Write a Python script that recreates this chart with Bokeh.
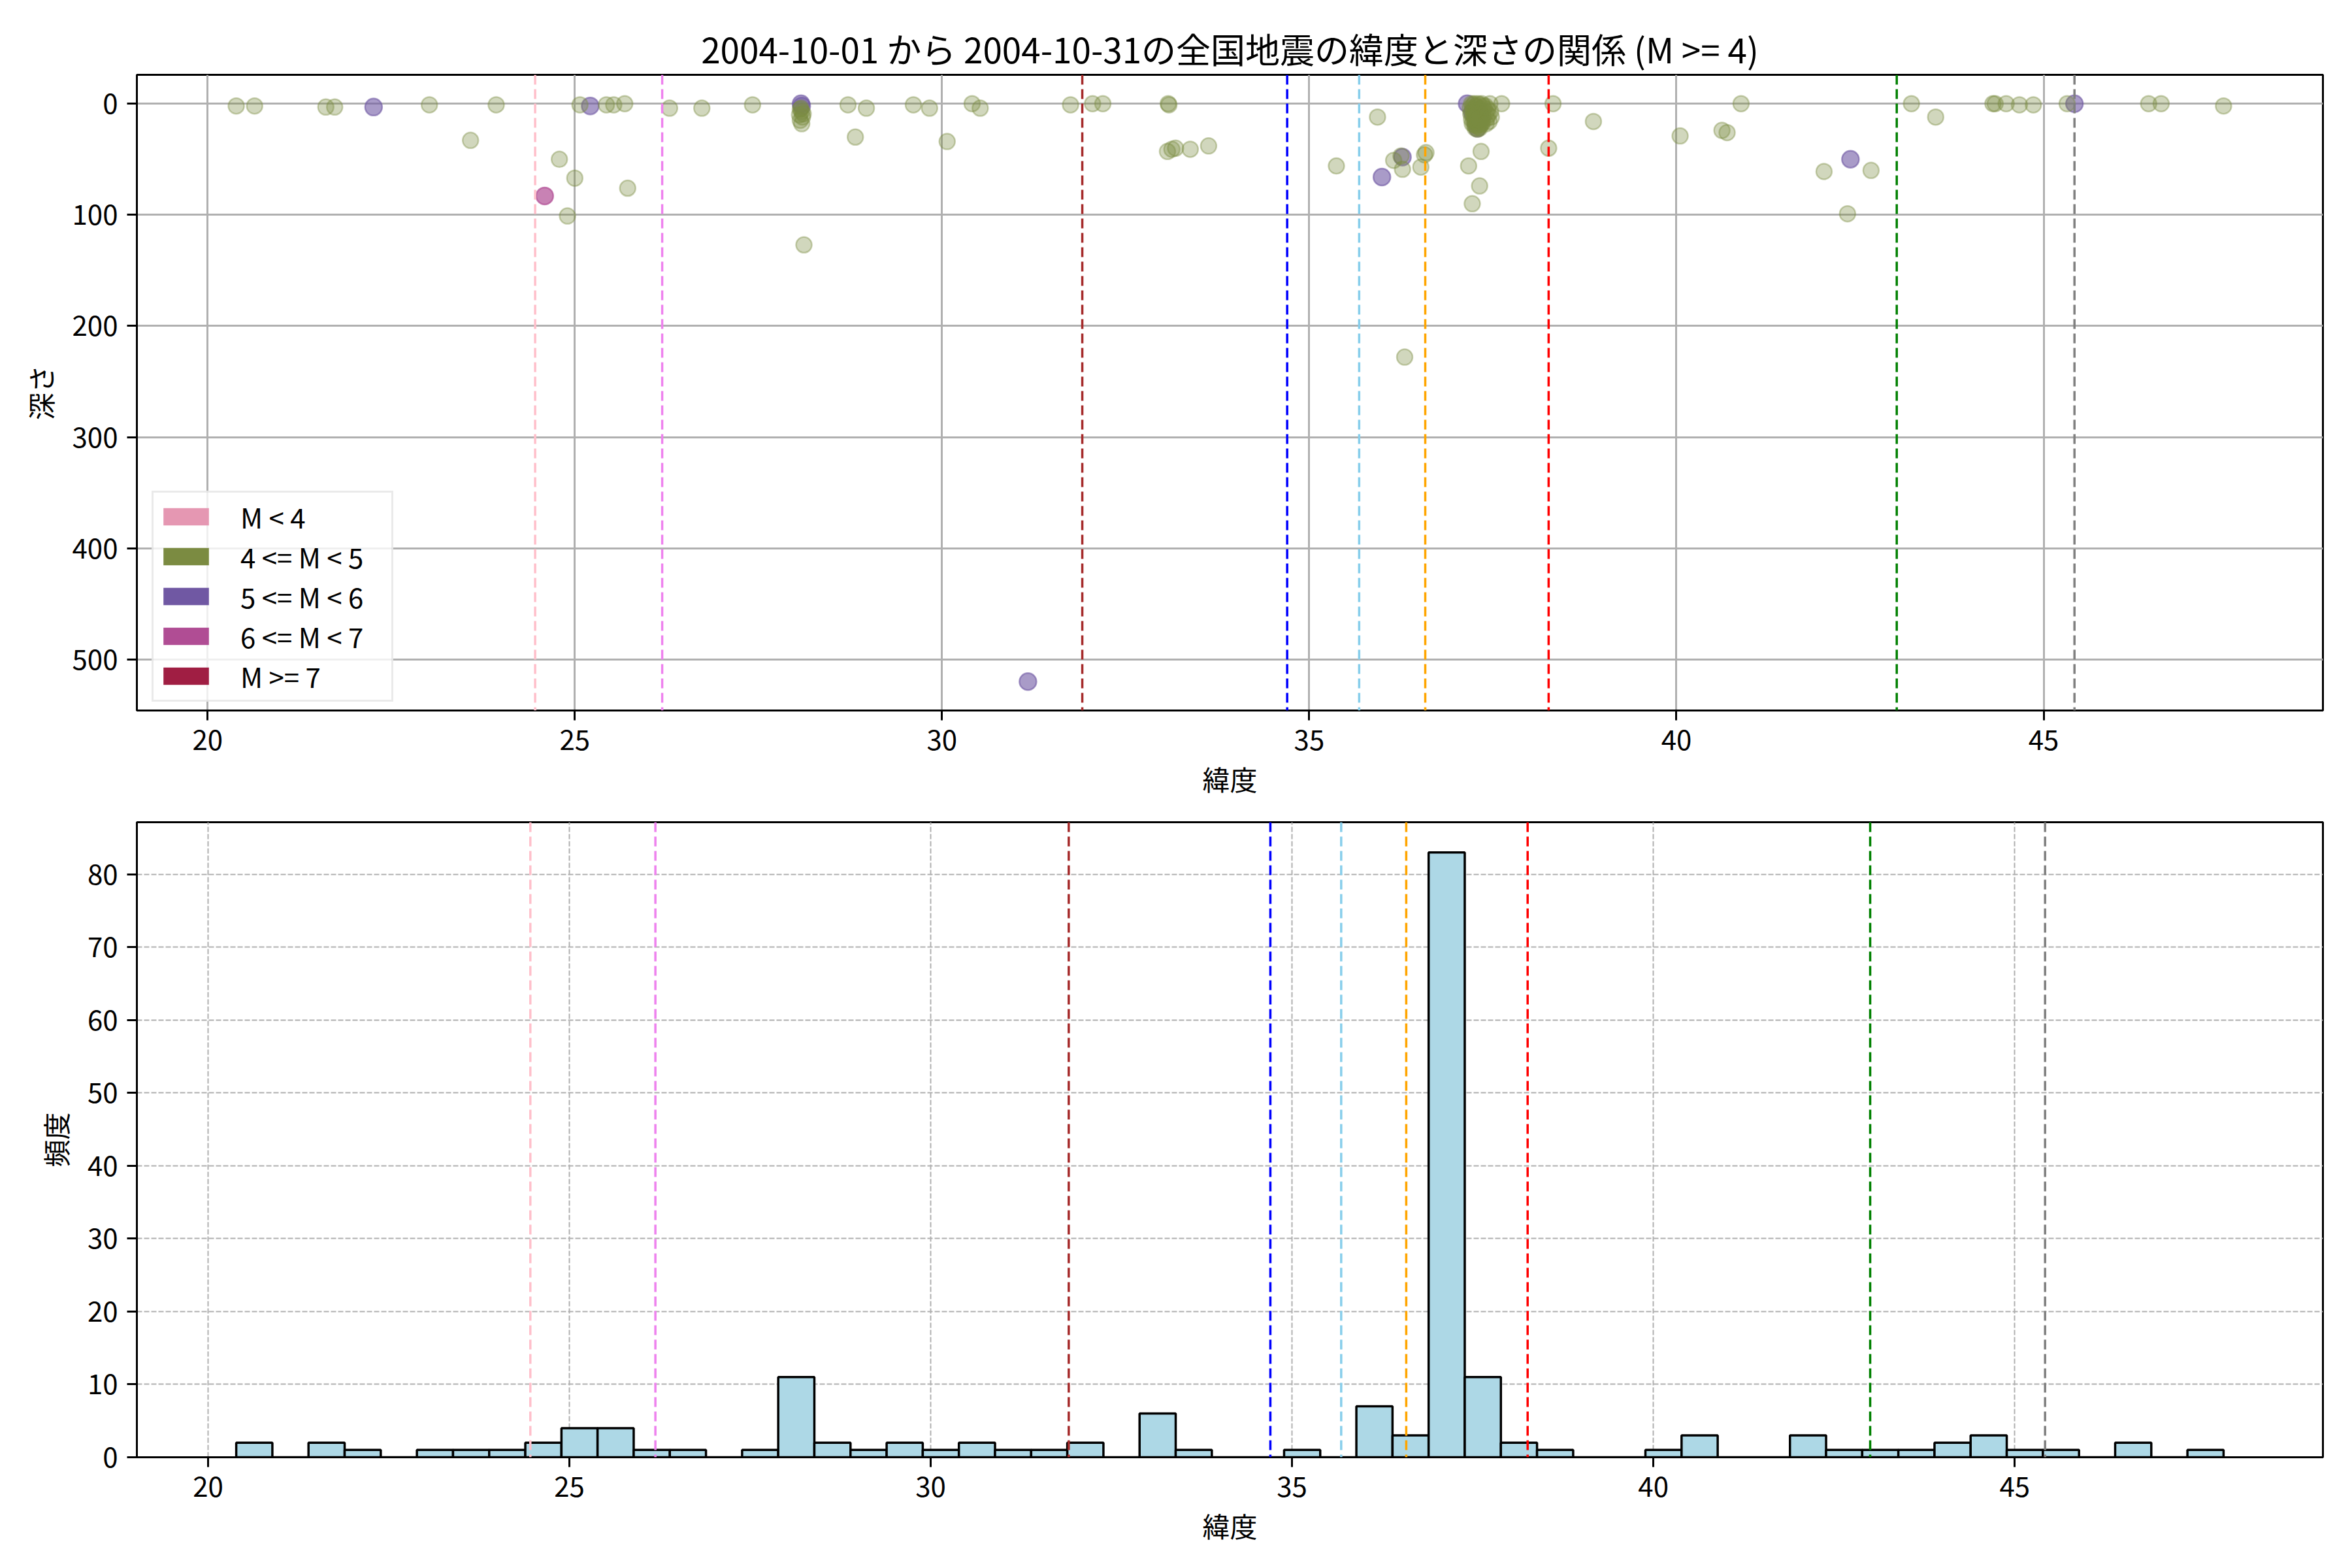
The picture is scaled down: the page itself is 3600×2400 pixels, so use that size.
import numpy as np
from bokeh.plotting import figure
from bokeh.models import Span, Range1d, FixedTicker, Legend, LegendItem
from bokeh.layouts import column
from bokeh.embed import file_html
from bokeh.resources import INLINE

FONT = "Noto Sans CJK JP"
TITLE = "2004-10-01 から 2004-10-31の全国地震の緯度と深さの関係 (M >= 4)"

# ---- data: 4 <= M < 5 (latitude, depth) ----
m4_lat = [20.39, 20.64, 21.61, 21.73, 23.02, 23.58, 23.93, 24.79, 24.90, 25.00, 25.07,
          25.43, 25.53, 25.68, 25.72, 26.29, 26.73, 27.42,
          28.07, 28.09, 28.06, 28.10, 28.07, 28.09, 28.11, 28.08, 28.12,
          28.72, 28.82, 28.97, 29.61, 29.83, 30.07, 30.41, 30.52, 31.75, 32.05, 32.19,
          33.08, 33.09, 33.07, 33.13, 33.18, 33.38, 33.63, 35.37,
          35.93, 36.15, 36.27, 36.30, 36.25, 36.52, 36.57, 36.59,
          37.17, 37.22, 37.32, 37.34,
          37.21, 37.23, 37.25, 37.27, 37.30, 37.32, 37.35, 37.37, 37.19, 37.22,
          37.24, 37.26, 37.28, 37.29, 37.31, 37.33, 37.34, 37.36, 37.38, 37.20,
          37.23, 37.25, 37.26, 37.27, 37.28, 37.29, 37.30, 37.31, 37.32, 37.33,
          37.34, 37.35, 37.36, 37.37, 37.21, 37.24, 37.26, 37.27, 37.28, 37.29,
          37.30, 37.31, 37.32, 37.33, 37.34, 37.35, 37.36, 37.22, 37.25, 37.27,
          37.28, 37.30, 37.31, 37.33, 37.35, 37.26, 37.29, 37.32, 37.28, 37.30,
          37.31, 37.32, 37.29, 37.30, 37.31, 37.29, 37.30, 37.28, 37.31, 37.33,
          37.27, 37.26, 37.34, 37.28, 37.30,
          37.40, 37.41, 37.42, 37.43, 37.44, 37.45, 37.46, 37.47, 37.48, 37.41, 37.62,
          38.32, 38.26, 38.87, 40.05, 40.62, 40.69, 40.88, 42.01, 42.33, 42.65,
          43.20, 43.53, 44.31, 44.34, 44.49, 44.67, 44.86, 45.32, 46.43, 46.60, 47.45]
m4_depth = [2, 2, 3, 3, 1, 33, 1, 50, 101, 67, 1,
            1, 1, 0, 76, 4, 4, 1,
            5, 7, 10, 12, 15, 18, 9, 4, 127,
            1, 30, 4, 1, 4, 34, 0, 4, 1, 0, 0,
            0, 1, 43, 41, 40, 41, 38, 56,
            12, 51, 59, 228, 47, 57, 46, 44,
            56, 90, 74, 43,
            0, 1, 0, 2, 0, 1, 0, 2, 4, 5,
            6, 5, 7, 6, 8, 5, 7, 6, 4, 9,
            10, 11, 9, 12, 10, 11, 13, 10, 12, 9,
            11, 13, 10, 12, 14, 15, 14, 16, 15, 14,
            16, 15, 17, 14, 16, 15, 17, 18, 19, 20,
            18, 19, 21, 19, 18, 22, 23, 22, 3, 4,
            6, 8, 9, 11, 12, 13, 8, 12, 14, 13,
            8, 11, 10, 16, 14,
            2, 8, 13, 5, 10, 16, 0, 7, 12, 18, 0,
            0, 40, 16, 29, 24, 26, 0, 61, 99, 60,
            0, 12, 0, 0, 0, 1, 1, 0, 0, 0, 2]

# ---- data: 5 <= M < 6 ----
m5_lat = [22.26, 25.21, 28.08, 28.09, 31.17, 35.99, 36.27, 37.15, 37.29, 37.27, 37.22, 42.37, 45.42]
m5_depth = [3, 2, 0, 2, 520, 66, 48, 0, 22, 17, 8, 50, 0]

# ---- data: 6 <= M < 7 ----
m6_lat = [24.59]
m6_depth = [83]

# ---- legend categories ----
cat_labels = ["M < 4", "4 <= M < 5", "5 <= M < 6", "6 <= M < 7", "M >= 7"]
cat_colors = ["#e597b2", "#7b8b41", "#7058a3", "#b04d94", "#a01e43"]

# ---- reference latitude lines ----
ref_lats = [24.46, 26.19, 31.91, 34.70, 35.68, 36.58, 38.26, 43.00, 45.42]
ref_colors = ["pink", "violet", "brown", "blue", "skyblue", "orange", "red", "green", "gray"]

all_lat = np.array(m4_lat + m5_lat + m6_lat)
all_depth = np.array(m4_depth + m5_depth + m6_depth)

# ---- ranges (matplotlib-like 5% margins) ----
lmin, lmax = all_lat.min(), all_lat.max()
lpad = 0.05 * (lmax - lmin)
dmin, dmax = all_depth.min(), all_depth.max()
dpad = 0.05 * (dmax - dmin)

edges = np.arange(lmin, lmax + 0.5, 0.5)
counts, edges = np.histogram(all_lat, bins=edges)
hpad = 0.05 * (edges[-1] - edges[0])


def style(p, xlabel, ylabel, ylabel_standoff):
    p.background_fill_color = "white"
    p.border_fill_color = "white"
    p.outline_line_color = "black"
    p.outline_line_width = 3
    for ax in (p.xaxis[0], p.yaxis[0]):
        ax.axis_line_color = "black"
        ax.axis_line_width = 3
        ax.major_tick_line_color = "black"
        ax.major_tick_line_width = 3
        ax.major_tick_out = 15
        ax.major_tick_in = 0
        ax.minor_tick_line_color = None
        ax.major_label_text_font = FONT
        ax.major_label_text_font_size = "42px"
        ax.major_label_text_color = "black"
        ax.major_label_standoff = 14
        ax.axis_label_text_font = FONT
        ax.axis_label_text_font_size = "42px"
        ax.axis_label_text_font_style = "normal"
        ax.axis_label_text_color = "black"
    p.xaxis.axis_label = xlabel
    p.yaxis.axis_label = ylabel
    p.xaxis.axis_label_standoff = 10
    p.yaxis.axis_label_standoff = ylabel_standoff
    p.xaxis.ticker = FixedTicker(ticks=[20, 25, 30, 35, 40, 45])


# ================= top: scatter =================
p1 = figure(width=3592, height=1225, output_backend="svg", toolbar_location=None,
            x_range=Range1d(lmin - lpad, lmax + lpad),
            y_range=Range1d(dmax + dpad, dmin - dpad),
            min_border_left=209, min_border_right=37, min_border_top=114, min_border_bottom=138)
style(p1, "緯度", "深さ", 16)
p1.yaxis.ticker = FixedTicker(ticks=[0, 100, 200, 300, 400, 500])
p1.title.text = TITLE
p1.title.text_font = FONT
p1.title.text_font_size = "53px"
p1.title.text_font_style = "normal"
p1.title.text_color = "black"
p1.title.align = "center"
p1.title.standoff = 6
p1.xgrid.grid_line_color = "#b0b0b0"
p1.ygrid.grid_line_color = "#b0b0b0"
p1.xgrid.grid_line_width = 3
p1.ygrid.grid_line_width = 3

p1.scatter(m5_lat, m5_depth, size=26, fill_color=cat_colors[2], fill_alpha=0.6,
           line_color=cat_colors[2], line_alpha=0.6, line_width=2.5)
p1.scatter(m4_lat, m4_depth, size=24, fill_color=cat_colors[1], fill_alpha=0.35,
           line_color=cat_colors[1], line_alpha=0.4, line_width=2.5)
p1.scatter(m6_lat, m6_depth, size=26, fill_color=cat_colors[3], fill_alpha=0.7,
           line_color=cat_colors[3], line_alpha=0.7, line_width=2.5)

# legend swatches: quads with no drawable position (NaN), used only for the key
items = []
for lab, col in zip(cat_labels, cat_colors):
    r = p1.quad(left=[np.nan], right=[np.nan], top=[np.nan], bottom=[np.nan],
                fill_color=col, line_color=None)
    items.append(LegendItem(label=lab, renderers=[r]))
leg = Legend(items=items, location=(23, 13))
leg.label_text_font = FONT
leg.label_text_font_size = "42px"
leg.label_text_color = "black"
leg.glyph_width = 87
leg.glyph_height = 33
leg.label_height = 33
leg.label_width = 225
leg.label_standoff = 40
leg.spacing = 0
leg.padding = 6
leg.margin = 0
leg.border_line_color = "#d6d6d6"
leg.border_line_width = 3
leg.background_fill_alpha = 0.8
p1.add_layout(leg, "center")

for lat, col in zip(ref_lats, ref_colors):
    p1.add_layout(Span(location=lat, dimension="height", line_color=col,
                       line_dash="15 7", line_width=3.5))

# ================= bottom: histogram =================
p2 = figure(width=3592, height=1167, output_backend="svg", toolbar_location=None,
            x_range=Range1d(edges[0] - hpad, edges[-1] + hpad),
            y_range=Range1d(0, counts.max() * 1.05),
            min_border_left=209, min_border_right=37, min_border_top=33, min_border_bottom=162)
style(p2, "緯度", "頻度", 16)
p2.yaxis.ticker = FixedTicker(ticks=[0, 10, 20, 30, 40, 50, 60, 70, 80])
p2.xgrid.grid_line_color = "#b0b0b0"
p2.ygrid.grid_line_color = "#b0b0b0"
p2.xgrid.grid_line_width = 2
p2.ygrid.grid_line_width = 2
p2.xgrid.grid_line_dash = "8 3"
p2.ygrid.grid_line_dash = "8 3"

p2.quad(left=edges[:-1], right=edges[1:], bottom=0, top=counts,
        fill_color="#add8e6", line_color="black", line_width=3.5)

for lat, col in zip(ref_lats, ref_colors):
    p2.add_layout(Span(location=lat, dimension="height", line_color=col,
                       line_dash="15 7", line_width=3.5))

layout = column(p1, p2, spacing=0)
open("out.html", "w").write(file_html(layout, INLINE))
